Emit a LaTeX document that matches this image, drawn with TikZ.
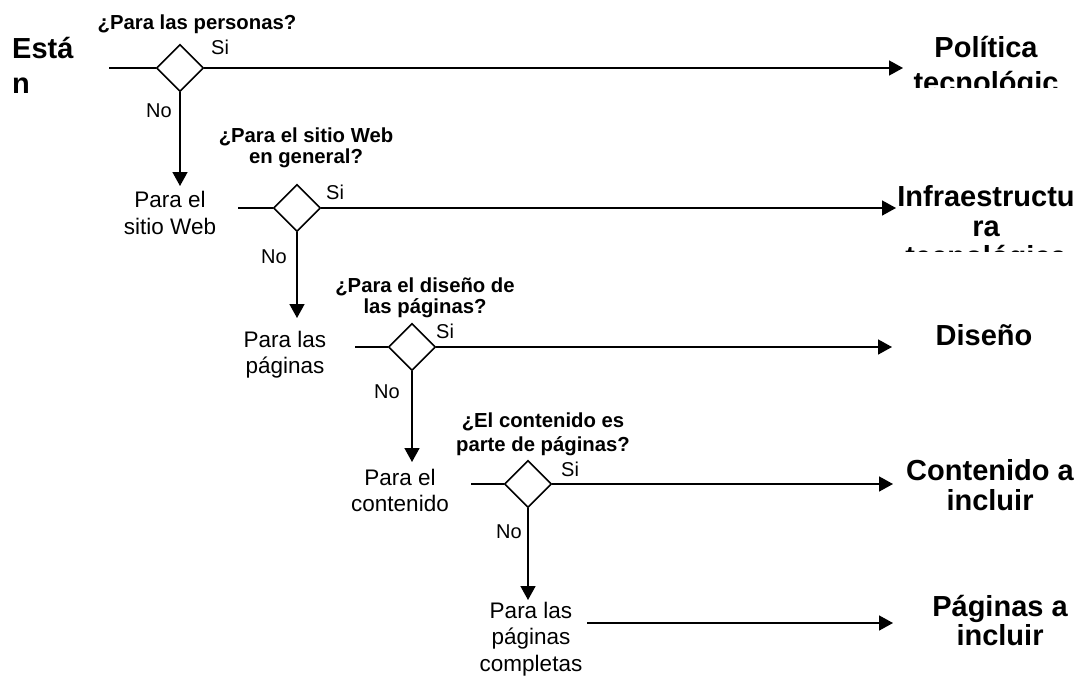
\documentclass[tikz,border=0pt]{standalone}
\usepackage{fontspec}
\setmainfont{Liberation Sans}
\usetikzlibrary{shapes.geometric,arrows.meta}
\newcommand\mlines[3]{\vtop{\baselineskip=#2\lineskiplimit=-1000pt\lineskip=0pt\halign{#1##\hfil\cr#3\crcr}}}
\begin{document}
\begin{tikzpicture}[x=1pt,y=-1pt,
  ln/.style={line width=1.6pt},
  arr/.style={ln,-{Triangle[length=14pt,width=15pt]}},
  dia/.style={diamond,draw,line width=1.6pt,minimum width=47pt,minimum height=47pt,inner sep=0pt},
  outtxt/.style={font=\fontsize{29}{30}\selectfont\bfseries,inner sep=0pt,anchor=base},
  qtxt/.style={font=\fontsize{20.3}{21}\selectfont\bfseries,inner sep=0pt,anchor=base},
  stxt/.style={font=\fontsize{22.5}{27}\selectfont,inner sep=0pt,anchor=base},
  lbl/.style={font=\fontsize{20}{22}\selectfont,inner sep=0pt,anchor=base west}]
\useasboundingbox (0,0) rectangle (1087,677);

% start label
\node[outtxt,anchor=base west] (esta) at (12,59) {\mlines{}{35pt}{Está\cr n}};

% outputs
\begin{scope}
\clip (880,0) rectangle (1087,87);
\node[outtxt] (o1) at (986,58) {\mlines{\hfil}{35pt}{Política\cr tecnológic}};
\end{scope}
\begin{scope}
\clip (880,150) rectangle (1087,251);
\node[outtxt] (o2) at (986,206) {\mlines{\hfil}{30pt}{Infraestructu\cr ra\cr tecnológica}};
\end{scope}
\node[outtxt] (o3) at (984,345) {Diseño};
\node[outtxt] (o4) at (990,480) {\mlines{\hfil}{30pt}{Contenido a\cr incluir}};
\node[outtxt] (o5) at (1000,616) {\mlines{\hfil}{29.5pt}{Páginas a\cr incluir}};

% questions
\node[qtxt] (q1) at (197,30) {¿Para las personas?};
\node[qtxt] (q2) at (306,142) {\mlines{\hfil}{21pt}{¿Para el sitio Web\cr en general?}};
\node[qtxt] (q3) at (425,292) {\mlines{\hfil}{21pt}{¿Para el diseño de\cr las páginas?}};
\node[qtxt] (q4) at (543,427) {\mlines{\hfil}{24pt}{¿El contenido es\cr parte de páginas?}};

% intermediate texts
\node[stxt] (n1) at (170,207) {\mlines{\hfil}{27pt}{Para el\cr sitio Web}};
\node[stxt] (n2) at (285,347) {\mlines{\hfil}{26pt}{Para las\cr páginas}};
\node[stxt] (n3) at (400,485) {\mlines{\hfil}{26pt}{Para el\cr contenido}};
\node[stxt] (n4) at (531,618) {\mlines{\hfil}{26.5pt}{Para las\cr páginas\cr completas}};

% diamonds
\node[dia] (d1) at (180,68) {};
\node[dia] (d2) at (297,208) {};
\node[dia] (d3) at (412,347) {};
\node[dia] (d4) at (528,484) {};

% coordinates
\coordinate (s1) at (109,68);  \coordinate (e1) at (903,68);  \coordinate (v1) at (180,186);
\coordinate (s2) at (238,208); \coordinate (e2) at (896,208); \coordinate (v2) at (297,318);
\coordinate (s3) at (355,347); \coordinate (e3) at (892,347); \coordinate (v3) at (412,462);
\coordinate (s4) at (471,484); \coordinate (e4) at (893,484); \coordinate (v4) at (528,600);
\coordinate (s5) at (587,623); \coordinate (e5) at (893,623);

% connectors
\draw[ln] (s1) -- (d1.west);
\draw[arr] (d1.east) -- (e1);
\draw[arr] (d1.south) -- (v1);
\draw[ln] (s2) -- (d2.west);
\draw[arr] (d2.east) -- (e2);
\draw[arr] (d2.south) -- (v2);
\draw[ln] (s3) -- (d3.west);
\draw[arr] (d3.east) -- (e3);
\draw[arr] (d3.south) -- (v3);
\draw[ln] (s4) -- (d4.west);
\draw[arr] (d4.east) -- (e4);
\draw[arr] (d4.south) -- (v4);
\draw[arr] (s5) -- (e5);

% Si / No labels
\node[lbl] (si1) at (211,55) {Si};
\node[lbl] (no1) at (146,117) {No};
\node[lbl] (si2) at (326,199) {Si};
\node[lbl] (no2) at (261,263) {No};
\node[lbl] (si3) at (436,338) {Si};
\node[lbl] (no3) at (374,398) {No};
\node[lbl] (si4) at (561,476) {Si};
\node[lbl] (no4) at (496,538) {No};
\end{tikzpicture}
\end{document}
